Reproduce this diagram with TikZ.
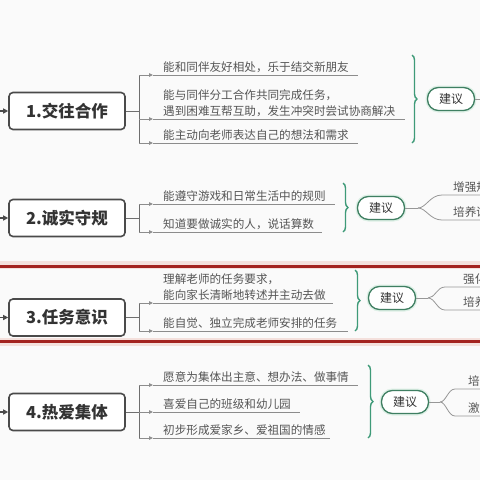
\documentclass[tikz,border=0pt]{standalone}
\usepackage{fontspec}
\setmainfont{Noto Sans CJK SC}
\usetikzlibrary{arrows.meta,decorations.pathreplacing}
\definecolor{bgc}{HTML}{FAFAFA}
\definecolor{txtc}{HTML}{555555}
\definecolor{boxc}{HTML}{4A4A4A}
\definecolor{linec}{HTML}{8C8C8C}
\definecolor{greenc}{HTML}{3E9A78}
\definecolor{pillc}{HTML}{3F7F62}
\definecolor{glowc}{HTML}{DDF0E6}
\definecolor{redc}{HTML}{A3231F}
\definecolor{pinkc}{HTML}{F4E0DC}
\tikzset{
  mainbox/.style={draw=boxc, line width=1.6pt, rounded corners=4pt, fill=white,
    minimum width=116pt, minimum height=37pt, inner sep=0pt,
    font=\fontsize{16.5}{18}\selectfont\bfseries, text=black!80},
  item/.style={inner sep=0pt, anchor=south west, align=left, text=txtc,
    font=\fontsize{11.6}{16}\selectfont},
  sideitem/.style={inner sep=0pt, anchor=south west, text=txtc,
    font=\fontsize{11.6}{16}\selectfont},
  pill/.style={draw=pillc, line width=1.3pt, rounded corners=11pt, fill=white,
    minimum width=47pt, minimum height=23pt, inner sep=0pt,
    font=\fontsize{12}{14}\selectfont, text=black!80,
    preaction={draw=glowc, line width=4pt}},
  conn/.style={draw=boxc!80, line width=0.8pt},
  inarr/.style={draw=boxc, line width=1.2pt, -{Triangle[length=5pt,width=5pt]}},
  tiparr/.style={draw=linec, line width=0.8pt, -{Triangle[length=4pt,width=3.5pt]}},
  uline/.style={draw=linec, line width=0.8pt},
  forkline/.style={draw=linec!90, line width=0.8pt},
  gbrace/.style={draw=greenc, line width=1.4pt, decorate,
    decoration={brace, amplitude=5pt}},
}
\begin{document}
\begin{tikzpicture}[x=1pt,y=-1pt]
\useasboundingbox (0,0) rectangle (480,480);
\fill[bgc] (0,0) rectangle (480,480);

% red frame around section 3
\draw[pinkc, line width=8pt] (-5,265) rectangle (485,342);
\draw[redc, line width=3pt] (-5,266) rectangle (485,341);

% ================= Section 1 =================
\node[mainbox] (m1) at (67,111) {1.交往合作};
\coordinate (in1) at (0,111);
\draw[inarr] (in1) -- (m1.west);
\coordinate (j1) at (139,111);
\coordinate (j1t) at (139,75);
\coordinate (j1m) at (139,119);
\coordinate (j1b) at (139,143);
\draw[conn] (m1.east) -- (j1);
\draw[conn] (j1t) -- (j1b);
\coordinate (a11) at (153,75);
\coordinate (a12) at (153,119);
\coordinate (a13) at (153,143);
\draw[tiparr] (j1t) -- (a11);
\draw[tiparr] (j1m) -- (a12);
\draw[tiparr] (j1b) -- (a13);
\coordinate (e11) at (358,75);
\coordinate (e12) at (405,119);
\coordinate (e13) at (358,143);
\draw[uline] (a11) -- (e11);
\draw[uline] (a12) -- (e12);
\draw[uline] (a13) -- (e13);
\node[item] (t11) at (163,73) {能和同伴友好相处，乐于结交新朋友};
\node[item] (t12) at (163,117) {能与同伴分工合作共同完成任务，\\遇到困难互帮互助，发生冲突时尝试协商解决};
\node[item] (t13) at (163,141) {能主动向老师表达自己的想法和需求};
\coordinate (b1t) at (412,55);
\coordinate (b1b) at (412,143);
\draw[gbrace] (b1t) -- (b1b);
\node[pill] (p1) at (451,99) {建议};
\coordinate (r1) at (482,99);
\draw[forkline] (p1.east) -- (r1);

% ================= Section 2 =================
\node[mainbox] (m2) at (67,218) {2.诚实守规};
\coordinate (in2) at (0,218);
\draw[inarr] (in2) -- (m2.west);
\coordinate (j2) at (139,218);
\coordinate (j2t) at (139,204);
\coordinate (j2b) at (139,232);
\draw[conn] (m2.east) -- (j2);
\draw[conn] (j2t) -- (j2b);
\coordinate (a21) at (153,204);
\coordinate (a22) at (153,232);
\draw[tiparr] (j2t) -- (a21);
\draw[tiparr] (j2b) -- (a22);
\coordinate (e21) at (335,204);
\coordinate (e22) at (322,232);
\draw[uline] (a21) -- (e21);
\draw[uline] (a22) -- (e22);
\node[item] (t21) at (163,202) {能遵守游戏和日常生活中的规则};
\node[item] (t22) at (163,230) {知道要做诚实的人，说话算数};
\coordinate (b2t) at (343,183);
\coordinate (b2b) at (343,232);
\draw[gbrace] (b2t) -- (b2b);
\node[pill] (p2) at (381,208) {建议};
\coordinate (f2) at (418,208);
\coordinate (f2u) at (442,195);
\coordinate (f2d) at (442,220);
\coordinate (r2u) at (482,195);
\coordinate (r2d) at (482,220);
\draw[forkline] (p2.east) -- (f2);
\draw[forkline] (f2) .. controls (426,208) and (430,195) .. (f2u) -- (r2u);
\draw[forkline] (f2) .. controls (426,208) and (430,220) .. (f2d) -- (r2d);
\node[sideitem] (s21) at (453,193) {增强规};
\node[sideitem] (s22) at (453,218) {培养诚};

% ================= Section 3 =================
\node[mainbox] (m3) at (67,317.5) {3.任务意识};
\coordinate (in3) at (0,317.5);
\draw[inarr] (in3) -- (m3.west);
\coordinate (j3) at (139,317.5);
\coordinate (j3t) at (139,303);
\coordinate (j3b) at (139,331);
\draw[conn] (m3.east) -- (j3);
\draw[conn] (j3t) -- (j3b);
\coordinate (a31) at (153,303);
\coordinate (a32) at (153,331);
\draw[tiparr] (j3t) -- (a31);
\draw[tiparr] (j3b) -- (a32);
\coordinate (e31) at (333,303);
\coordinate (e32) at (348,331);
\draw[uline] (a31) -- (e31);
\draw[uline] (a32) -- (e32);
\node[item] (t31) at (163,301) {理解老师的任务要求，\\能向家长清晰地转述并主动去做};
\node[item] (t32) at (163,329) {能自觉、独立完成老师安排的任务};
\coordinate (b3t) at (355,270);
\coordinate (b3b) at (355,331);
\draw[gbrace] (b3t) -- (b3b);
\node[pill] (p3) at (392,298) {建议};
\coordinate (f3) at (428,298);
\coordinate (f3u) at (445,287);
\coordinate (f3d) at (445,310);
\coordinate (r3u) at (482,287);
\coordinate (r3d) at (482,310);
\draw[forkline] (p3.east) -- (f3);
\draw[forkline] (f3) .. controls (435,298) and (437,287) .. (f3u) -- (r3u);
\draw[forkline] (f3) .. controls (435,298) and (437,310) .. (f3d) -- (r3d);
\node[sideitem] (s31) at (463,285) {强化};
\node[sideitem] (s32) at (463,308) {培养};

% ================= Section 4 =================
\node[mainbox] (m4) at (67,412) {4.热爱集体};
\coordinate (in4) at (0,412);
\draw[inarr] (in4) -- (m4.west);
\coordinate (j4) at (139,412);
\coordinate (j4t) at (139,385);
\coordinate (j4b) at (139,438);
\draw[conn] (m4.east) -- (j4);
\draw[conn] (j4t) -- (j4b);
\coordinate (a41) at (153,385);
\coordinate (a42) at (153,412);
\coordinate (a43) at (153,438);
\draw[tiparr] (j4t) -- (a41);
\draw[tiparr] (j4) -- (a42);
\draw[tiparr] (j4b) -- (a43);
\coordinate (e41) at (358,385);
\coordinate (e42) at (300,412);
\coordinate (e43) at (330,438);
\draw[uline] (a41) -- (e41);
\draw[uline] (a42) -- (e42);
\draw[uline] (a43) -- (e43);
\node[item] (t41) at (163,383) {愿意为集体出主意、想办法、做事情};
\node[item] (t42) at (163,410) {喜爱自己的班级和幼儿园};
\node[item] (t43) at (163,436) {初步形成爱家乡、爱祖国的情感};
\coordinate (b4t) at (368,365);
\coordinate (b4b) at (368,438);
\draw[gbrace] (b4t) -- (b4b);
\node[pill] (p4) at (405,402) {建议};
\coordinate (f4) at (440,402);
\coordinate (f4u) at (455,389);
\coordinate (f4d) at (455,416);
\coordinate (r4u) at (482,389);
\coordinate (r4d) at (482,416);
\draw[forkline] (p4.east) -- (f4);
\draw[forkline] (f4) .. controls (446,402) and (448,389) .. (f4u) -- (r4u);
\draw[forkline] (f4) .. controls (446,402) and (448,416) .. (f4d) -- (r4d);
\node[sideitem] (s41) at (468,387) {培养};
\node[sideitem] (s42) at (468,414) {激发};
\end{tikzpicture}
\end{document}
